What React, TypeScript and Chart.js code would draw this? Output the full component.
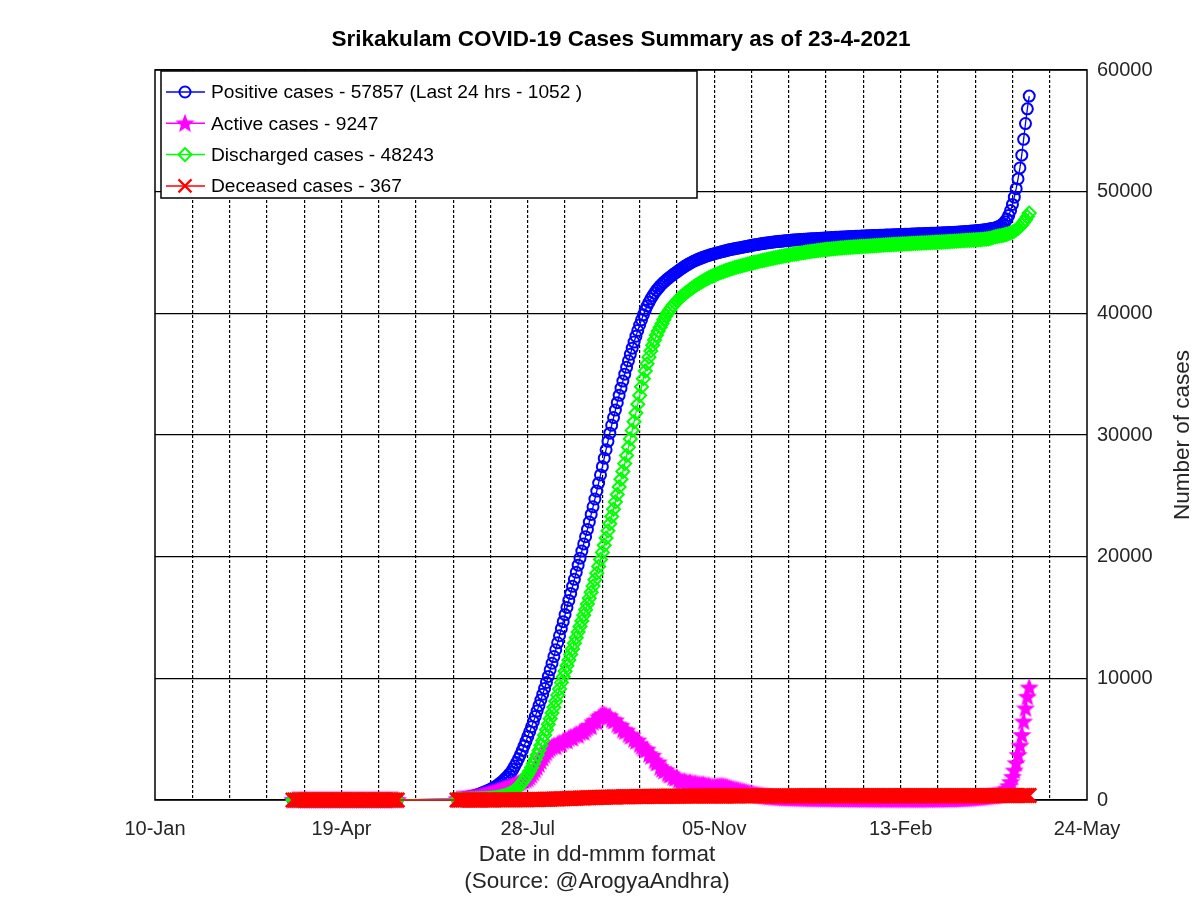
import React, { useEffect, useRef } from 'react';
import { Chart, registerables } from 'chart.js';

Chart.register(...registerables);

// ---------- texts ----------
const TITLE = 'Srikakulam COVID-19 Cases Summary as of 23-4-2021';
const X_TITLE = ['Date in dd-mmm format', '(Source: @ArogyaAndhra)'];
const Y_TITLE = 'Number of cases';
const LEGEND_LABELS = [
  'Positive cases - 57857 (Last 24 hrs - 1052 )',
  'Active cases - 9247',
  'Discharged cases - 48243',
  'Deceased cases - 367',
];
const MONTHS = ['Jan', 'Feb', 'Mar', 'Apr', 'May', 'Jun', 'Jul', 'Aug', 'Sep', 'Oct', 'Nov', 'Dec'];

// ---------- axes ----------
const AXIS_START = '2020-01-10';
const AXIS_END = '2021-05-24';
const X_MINOR_STEP_DAYS = 20;
const X_LABEL_STEP_DAYS = 100;
const Y_MIN = 0;
const Y_MAX = 60000;
const Y_STEP = 10000;

// ---------- daily reporting segments ----------
const SEGMENT_STARTS = ['2020-03-24', '2020-06-20'];
const SEGMENT_LENGTHS = [57, 308];

// ---------- series (daily values, segment 1 then segment 2) ----------
const positive = [
  0, 0, 0, 0, 0, 0, 0, 0, 0, 0,
  0, 0, 0, 0, 0, 0, 0, 0, 0, 0,
  0, 0, 0, 0, 0, 0, 0, 0, 0, 0,
  0, 3, 3, 3, 3, 3, 3, 4, 4, 4,
  5, 5, 5, 5, 5, 5, 5, 5, 5, 5,
  7, 7, 7, 7, 7, 7, 8,
  100, 120, 145, 170, 195, 220, 250, 280, 315, 350,
  390, 440, 495, 550, 610, 670, 735, 805, 880, 960,
  1045, 1140, 1245, 1360, 1485, 1620, 1770, 1930, 2100, 2280,
  2520, 2790, 3080, 3390, 3720, 4070, 4440, 4820, 5210, 5610,
  6020, 6440, 6870, 7310, 7760, 8220, 8690, 9170, 9660, 10160,
  10700, 11240, 11790, 12350, 12920, 13500, 14080, 14660, 15240, 15820,
  16400, 16980, 17560, 18140, 18720, 19300, 19880, 20460, 21050, 21640,
  22240, 22850, 23470, 24100, 24740, 25390, 26050, 26720, 27400, 28090,
  28790, 29480, 30150, 30800, 31430, 32050, 32660, 33260, 33850, 34430,
  35000, 35560, 36100, 36630, 37140, 37640, 38120, 38590, 39040, 39470,
  39880, 40260, 40600, 40910, 41190, 41440, 41670, 41880, 42070, 42250,
  42410, 42560, 42700, 42830, 42950, 43070, 43190, 43300, 43410, 43520,
  43630, 43740, 43840, 43940, 44030, 44120, 44200, 44280, 44350, 44420,
  44480, 44540, 44600, 44660, 44710, 44760, 44810, 44860, 44900, 44940,
  44980, 45020, 45060, 45100, 45140, 45180, 45220, 45250, 45280, 45310,
  45340, 45370, 45400, 45430, 45460, 45490, 45520, 45550, 45580, 45610,
  45635, 45660, 45685, 45710, 45735, 45760, 45785, 45810, 45830, 45850,
  45870, 45885, 45900, 45915, 45930, 45945, 45960, 45975, 45990, 46005,
  46020, 46030, 46040, 46050, 46060, 46070, 46080, 46090, 46100, 46110,
  46120, 46130, 46140, 46150, 46160, 46170, 46180, 46190, 46200, 46210,
  46220, 46228, 46236, 46244, 46252, 46260, 46268, 46276, 46284, 46292,
  46300, 46307, 46314, 46321, 46328, 46335, 46342, 46349, 46356, 46363,
  46370, 46376, 46382, 46388, 46394, 46400, 46406, 46412, 46418, 46424,
  46430, 46436, 46442, 46448, 46454, 46460, 46466, 46472, 46478, 46484,
  46490, 46496, 46502, 46508, 46514, 46520, 46526, 46532, 46538, 46544,
  46550, 46556, 46562, 46568, 46574, 46580, 46586, 46592, 46598, 46604,
  46610, 46617, 46624, 46631, 46638, 46645, 46653, 46661, 46670, 46680,
  46690, 46700, 46711, 46722, 46734, 46746, 46759, 46772, 46786, 46800,
  46815, 46832, 46850, 46870, 46892, 46916, 46942, 46970, 47000, 47030,
  47090, 47160, 47250, 47370, 47530, 47750, 48050, 48450, 48950, 49550,
  50250, 51050, 51950, 53000, 54300, 55600, 56805, 57857,
];

const active = [
  0, 0, 0, 0, 0, 0, 0, 0, 0, 0,
  0, 0, 0, 0, 0, 0, 0, 0, 0, 0,
  0, 0, 0, 0, 0, 0, 0, 0, 0, 0,
  0, 3, 3, 3, 3, 3, 3, 4, 4, 4,
  5, 5, 5, 4, 4, 4, 4, 3, 3, 5,
  5, 5, 4, 4, 4, 5, 5,
  60, 70, 85, 95, 110, 125, 140, 160, 175, 195,
  220, 250, 290, 330, 370, 410, 450, 500, 550, 600,
  640, 690, 740, 800, 860, 910, 960, 1010, 1060, 1120,
  1190, 1250, 1320, 1390, 1450, 1520, 1600, 1670, 1750, 1880,
  2050, 2250, 2480, 2700, 2950, 3200, 3450, 3680, 3900, 4100,
  4250, 4380, 4460, 4400, 4600, 4680, 4620, 4850, 4920, 4880,
  5080, 5170, 5100, 5310, 5400, 5330, 5560, 5650, 5580, 5800,
  5950, 6100, 6050, 6400, 6520, 6450, 6800, 6900, 7050, 7000,
  6950, 6850, 6880, 6620, 6500, 6550, 6220, 6080, 6100, 5780,
  5650, 5700, 5400, 5260, 5300, 5000, 4850, 4900, 4580, 4420,
  4270, 4120, 4150, 3780, 3600, 3650, 3250, 3050, 3100, 2700,
  2550, 2400, 2450, 2170, 2050, 2100, 1880, 1800, 1850, 1650,
  1560, 1520, 1550, 1450, 1420, 1450, 1380, 1350, 1370, 1300,
  1280, 1260, 1280, 1210, 1180, 1200, 1120, 1100, 1090, 1100,
  1120, 1140, 1150, 1130, 1100, 1060, 1000, 950, 900, 870,
  850, 810, 760, 720, 680, 640, 600, 560, 520, 480,
  450, 420, 390, 370, 350, 320, 300, 280, 260, 250,
  240, 230, 220, 210, 200, 190, 180, 175, 170, 165,
  160, 155, 150, 145, 140, 138, 135, 132, 130, 128,
  125, 122, 120, 118, 115, 112, 110, 108, 105, 102,
  100, 98, 96, 94, 92, 90, 88, 86, 84, 82,
  80, 78, 76, 75, 74, 73, 72, 71, 70, 70,
  69, 68, 67, 66, 65, 64, 63, 62, 62, 61,
  61, 60, 60, 59, 59, 58, 58, 58, 57, 57,
  57, 56, 56, 56, 55, 55, 55, 55, 56, 56,
  57, 58, 59, 60, 61, 62, 63, 64, 65, 66,
  68, 70, 72, 74, 77, 80, 84, 88, 93, 98,
  104, 110, 117, 125, 134, 144, 155, 167, 180, 195,
  205, 220, 236, 253, 271, 290, 310, 331, 353, 373,
  402, 442, 500, 590, 710, 890, 1139, 1479, 1909, 2428,
  3028, 3707, 4467, 5346, 6456, 7535, 8489, 9247,
];

const discharged = [
  0, 0, 0, 0, 0, 0, 0, 0, 0, 0,
  0, 0, 0, 0, 0, 0, 0, 0, 0, 0,
  0, 0, 0, 0, 0, 0, 0, 0, 0, 0,
  0, 0, 0, 0, 0, 0, 0, 0, 0, 0,
  0, 0, 0, 1, 1, 1, 1, 2, 2, 2,
  2, 2, 2, 3, 3, 3, 3,
  40, 42, 45, 48, 52, 56, 60, 65, 70, 75,
  80, 86, 92, 100, 108, 117, 127, 138, 150, 163,
  180, 200, 225, 255, 290, 330, 380, 440, 510, 590,
  690, 800, 930, 1080, 1250, 1440, 1650, 1880, 2120, 2380,
  2680, 3000, 3340, 3700, 4080, 4480, 4900, 5330, 5770, 6220,
  6680, 7150, 7630, 8120, 8620, 9130, 9650, 10120, 10580, 11040,
  11500, 11960, 12420, 12880, 13340, 13800, 14260, 14720, 15180, 15640,
  16110, 16590, 17080, 17580, 18100, 18640, 19200, 19770, 20350, 20940,
  21530, 22120, 22710, 23300, 23900, 24500, 25110, 25730, 26360, 27000,
  27650, 28310, 28990, 29680, 30380, 31090, 31810, 32530, 33250, 33960,
  34630, 35260, 35850, 36400, 36910, 37380, 37810, 38200, 38550, 38860,
  39150, 39480, 39770, 40030, 40260, 40470, 40660, 40840, 41010, 41170,
  41320, 41460, 41590, 41710, 41830, 41950, 42060, 42170, 42280, 42380,
  42480, 42570, 42660, 42750, 42830, 42910, 42990, 43060, 43130, 43200,
  43260, 43320, 43380, 43440, 43500, 43550, 43600, 43650, 43700, 43750,
  43800, 43840, 43880, 43920, 43960, 44000, 44040, 44080, 44120, 44160,
  44200, 44235, 44270, 44305, 44340, 44375, 44410, 44445, 44480, 44515,
  44550, 44580, 44610, 44640, 44670, 44700, 44730, 44760, 44790, 44820,
  44845, 44870, 44895, 44920, 44945, 44970, 44995, 45020, 45045, 45070,
  45090, 45110, 45130, 45150, 45170, 45190, 45210, 45230, 45250, 45265,
  45280, 45295, 45310, 45325, 45340, 45355, 45370, 45385, 45400, 45410,
  45420, 45430, 45440, 45450, 45460, 45470, 45480, 45490, 45500, 45510,
  45520, 45530, 45540, 45550, 45560, 45570, 45580, 45590, 45600, 45610,
  45620, 45630, 45640, 45650, 45658, 45666, 45674, 45682, 45690, 45698,
  45706, 45714, 45722, 45730, 45738, 45746, 45754, 45762, 45770, 45778,
  45786, 45794, 45802, 45810, 45818, 45826, 45834, 45842, 45850, 45858,
  45866, 45875, 45884, 45893, 45902, 45911, 45920, 45930, 45940, 45950,
  45960, 45970, 45980, 45990, 46000, 46010, 46020, 46030, 46040, 46050,
  46060, 46070, 46080, 46095, 46110, 46130, 46160, 46200, 46270, 46300,
  46330, 46360, 46390, 46420, 46460, 46500, 46550, 46610, 46680, 46760,
  46860, 46980, 47120, 47290, 47480, 47700, 47950, 48243,
];

const deceased = [
  0, 0, 0, 0, 0, 0, 0, 0, 0, 0,
  0, 0, 0, 0, 0, 0, 0, 0, 0, 0,
  0, 0, 0, 0, 0, 0, 0, 0, 0, 0,
  0, 0, 0, 0, 0, 0, 0, 0, 0, 0,
  0, 0, 0, 0, 0, 0, 0, 0, 0, 0,
  0, 0, 0, 0, 0, 0, 0,
  2, 2, 2, 2, 2, 2, 3, 3, 3, 3,
  3, 3, 4, 4, 4, 4, 5, 5, 5, 6,
  6, 7, 7, 8, 8, 9, 10, 11, 12, 13,
  14, 15, 16, 17, 18, 20, 22, 24, 26, 28,
  31, 34, 37, 40, 44, 48, 52, 56, 60, 64,
  68, 73, 78, 83, 88, 93, 98, 104, 110, 116,
  122, 128, 134, 140, 146, 152, 158, 164, 170, 176,
  182, 188, 193, 198, 203, 208, 213, 218, 222, 226,
  230, 234, 238, 242, 246, 250, 254, 257, 260, 263,
  266, 269, 272, 275, 277, 279, 281, 283, 285, 287,
  289, 291, 293, 295, 297, 299, 301, 302, 303, 304,
  305, 306, 307, 308, 309, 310, 311, 312, 313, 314,
  315, 316, 317, 318, 319, 320, 321, 322, 323, 324,
  325, 326, 326, 327, 327, 328, 328, 329, 329, 330,
  330, 331, 331, 332, 332, 333, 333, 334, 334, 335,
  335, 335, 336, 336, 336, 337, 337, 337, 338, 338,
  338, 338, 339, 339, 339, 339, 340, 340, 340, 340,
  341, 341, 341, 341, 341, 342, 342, 342, 342, 342,
  342, 343, 343, 343, 343, 343, 343, 344, 344, 344,
  344, 344, 344, 344, 345, 345, 345, 345, 345, 345,
  345, 345, 345, 346, 346, 346, 346, 346, 346, 346,
  346, 346, 346, 346, 346, 346, 346, 346, 346, 347,
  347, 347, 347, 347, 347, 347, 347, 347, 347, 347,
  347, 347, 347, 347, 347, 347, 347, 347, 347, 347,
  347, 347, 347, 347, 347, 347, 347, 347, 347, 347,
  347, 347, 347, 347, 347, 347, 347, 347, 347, 347,
  347, 347, 347, 347, 347, 347, 347, 347, 347, 347,
  347, 347, 347, 347, 348, 348, 348, 348, 348, 348,
  348, 349, 349, 350, 350, 351, 352, 353, 355, 357,
  358, 358, 359, 359, 360, 360, 360, 361, 361, 362,
  362, 363, 363, 364, 364, 365, 366, 367,
];

// ---------- styling ----------
const FONT = '"Liberation Sans", Arial, Helvetica, sans-serif';
const COLORS = { positive: '#0000ff', active: '#ff00ff', discharged: '#00ff00', deceased: '#ff0000' };

function drawStarPath(g: CanvasRenderingContext2D, cx: number, cy: number, outerR: number, innerR: number) {
  g.beginPath();
  for (let i = 0; i < 10; i++) {
    const r = i % 2 === 0 ? outerR : innerR;
    const a = -Math.PI / 2 + (i * Math.PI) / 5;
    const px = cx + r * Math.cos(a);
    const py = cy + r * Math.sin(a);
    if (i === 0) g.moveTo(px, py);
    else g.lineTo(px, py);
  }
  g.closePath();
}

function makeStar(color: string, outerR: number, innerR: number): HTMLCanvasElement {
  const size = Math.ceil(outerR * 2 + 4);
  const c = document.createElement('canvas');
  c.width = size;
  c.height = size;
  const g = c.getContext('2d')!;
  drawStarPath(g, size / 2, size / 2 + 0.5, outerR, innerR);
  g.fillStyle = color;
  g.fill();
  g.strokeStyle = color;
  g.lineWidth = 1.5;
  g.stroke();
  return c;
}

export default function App() {
  const ref = useRef<HTMLCanvasElement>(null);

  useEffect(() => {
    document.body.style.margin = '0';
    const canvas = ref.current;
    if (!canvas) return;

    const DAY = 86400000;
    const t0 = Date.parse(AXIS_START + 'T00:00:00Z');
    const dayOf = (s: string) => Math.round((Date.parse(s + 'T00:00:00Z') - t0) / DAY);
    const xMax = dayOf(AXIS_END);

    const xs: number[] = [];
    SEGMENT_STARTS.forEach((s, i) => {
      const d0 = dayOf(s);
      for (let k = 0; k < SEGMENT_LENGTHS[i]; k++) xs.push(d0 + k);
    });
    const pts = (vals: number[]) => vals.map((v, i) => ({ x: xs[i], y: v }));

    const star = makeStar(COLORS.active, 8, 3.4);

    const framePlugin = {
      id: 'frame',
      beforeDatasetsDraw(chart: any) {
        const { ctx, chartArea: a } = chart;
        ctx.save();
        ctx.strokeStyle = '#000';
        ctx.lineWidth = 1.5;
        ctx.strokeRect(a.left, a.top, a.right - a.left, a.bottom - a.top);
        ctx.restore();
      },
    };

    const textPlugin = {
      id: 'texts',
      afterDraw(chart: any) {
        const { ctx, chartArea: a } = chart;
        ctx.save();
        // title
        ctx.fillStyle = '#000';
        ctx.textAlign = 'center';
        ctx.textBaseline = 'middle';
        ctx.font = `bold 22.5px ${FONT}`;
        ctx.fillText(TITLE, (a.left + a.right) / 2, 40);
        // x title
        ctx.fillStyle = '#262626';
        ctx.font = `22.5px ${FONT}`;
        ctx.fillText(X_TITLE[0], 597, 855);
        ctx.fillText(X_TITLE[1], 597, 882);
        // y title
        ctx.save();
        ctx.translate(1183, (a.top + a.bottom) / 2);
        ctx.rotate(-Math.PI / 2);
        ctx.fillText(Y_TITLE, 0, 0);
        ctx.restore();

        // legend
        const bx = 161, by = 71, bw = 536, bh = 127;
        ctx.fillStyle = '#fff';
        ctx.fillRect(bx, by, bw, bh);
        ctx.strokeStyle = '#000';
        ctx.lineWidth = 1.5;
        ctx.strokeRect(bx, by, bw, bh);
        const colors = [COLORS.positive, COLORS.active, COLORS.discharged, COLORS.deceased];
        ctx.font = `19.2px ${FONT}`;
        ctx.textAlign = 'left';
        ctx.textBaseline = 'middle';
        LEGEND_LABELS.forEach((label, i) => {
          const y = 92 + i * 31.3;
          const mx = 185;
          ctx.strokeStyle = colors[i];
          ctx.lineWidth = 1.5;
          ctx.beginPath();
          ctx.moveTo(166, y);
          ctx.lineTo(205, y);
          ctx.stroke();
          ctx.lineWidth = 2;
          if (i === 0) {
            ctx.beginPath();
            ctx.arc(mx, y, 5.5, 0, Math.PI * 2);
            ctx.stroke();
          } else if (i === 1) {
            ctx.drawImage(star, mx - star.width / 2, y - star.height / 2);
          } else if (i === 2) {
            ctx.beginPath();
            ctx.moveTo(mx - 6.5, y);
            ctx.lineTo(mx, y - 6.5);
            ctx.lineTo(mx + 6.5, y);
            ctx.lineTo(mx, y + 6.5);
            ctx.closePath();
            ctx.stroke();
          } else {
            ctx.lineWidth = 2.2;
            ctx.beginPath();
            ctx.moveTo(mx - 6.5, y - 6.5);
            ctx.lineTo(mx + 6.5, y + 6.5);
            ctx.moveTo(mx + 6.5, y - 6.5);
            ctx.lineTo(mx - 6.5, y + 6.5);
            ctx.stroke();
          }
          ctx.fillStyle = '#000';
          ctx.fillText(label, 211, y + 1);
        });
        ctx.restore();
      },
    };

    const tickFont = { family: FONT, size: 20 };

    const chart = new Chart(canvas, {
      type: 'line',
      data: {
        datasets: [
          {
            label: LEGEND_LABELS[0],
            data: pts(positive),
            borderColor: COLORS.positive,
            backgroundColor: 'rgba(0,0,0,0)',
            borderWidth: 1.3,
            pointStyle: 'circle',
            pointRadius: 5.5,
            pointBorderWidth: 2,
            pointBorderColor: COLORS.positive,
            pointBackgroundColor: 'rgba(0,0,0,0)',
            tension: 0,
            fill: false,
            clip: false,
            order: 4,
          },
          {
            label: LEGEND_LABELS[1],
            data: pts(active),
            borderColor: COLORS.active,
            backgroundColor: COLORS.active,
            borderWidth: 1.3,
            pointStyle: star,
            pointRadius: 7,
            tension: 0,
            fill: false,
            clip: false,
            order: 3,
          },
          {
            label: LEGEND_LABELS[2],
            data: pts(discharged),
            borderColor: COLORS.discharged,
            backgroundColor: 'rgba(0,0,0,0)',
            borderWidth: 1.3,
            pointStyle: 'rectRot',
            pointRadius: 6.5,
            pointBorderWidth: 2,
            pointBorderColor: COLORS.discharged,
            pointBackgroundColor: 'rgba(0,0,0,0)',
            tension: 0,
            fill: false,
            clip: false,
            order: 2,
          },
          {
            label: LEGEND_LABELS[3],
            data: pts(deceased),
            borderColor: COLORS.deceased,
            backgroundColor: 'rgba(0,0,0,0)',
            borderWidth: 1.5,
            pointStyle: 'crossRot',
            pointRadius: 10,
            pointBorderWidth: 2.5,
            pointBorderColor: COLORS.deceased,
            tension: 0,
            fill: false,
            clip: false,
            order: 1,
          },
        ],
      },
      options: {
        animation: false,
        responsive: false,
        maintainAspectRatio: false,
        events: [],
        layout: { padding: { left: 155, top: 70, right: 0, bottom: 0 } },
        plugins: {
          legend: { display: false },
          title: { display: false },
          tooltip: { enabled: false },
        },
        scales: {
          x: {
            type: 'linear',
            min: 0,
            max: xMax,
            afterFit: (s: any) => {
              s.height = 98;
            },
            ticks: {
              stepSize: X_MINOR_STEP_DAYS,
              autoSkip: false,
              maxRotation: 0,
              minRotation: 0,
              padding: 17,
              color: '#262626',
              font: tickFont,
              callback: (v: any) => {
                const n = Number(v);
                if (n % X_LABEL_STEP_DAYS !== 0) return '';
                const d = new Date(t0 + n * DAY);
                return `${String(d.getUTCDate()).padStart(2, '0')}-${MONTHS[d.getUTCMonth()]}`;
              },
            },
            grid: {
              drawTicks: false,
              lineWidth: 1.2,
              color: (c: any) =>
                c.tick && (c.tick.value === 0 || c.tick.value === xMax) ? 'rgba(0,0,0,0)' : '#000',
            },
            border: { display: false, dash: [3, 2] },
          },
          y: {
            type: 'linear',
            position: 'right',
            min: Y_MIN,
            max: Y_MAX,
            afterFit: (s: any) => {
              s.width = 113;
            },
            ticks: {
              stepSize: Y_STEP,
              padding: 10,
              color: '#262626',
              font: tickFont,
              callback: (v: any) => String(v),
            },
            grid: { drawTicks: false, lineWidth: 1.2, color: '#000' },
            border: { display: false },
          },
        },
      },
      plugins: [framePlugin, textPlugin],
    } as any);

    return () => chart.destroy();
  }, []);

  return (
    <div style={{ width: 1200, height: 898, background: '#fff' }}>
      <canvas ref={ref} width={1200} height={898} style={{ display: 'block' }} />
    </div>
  );
}
